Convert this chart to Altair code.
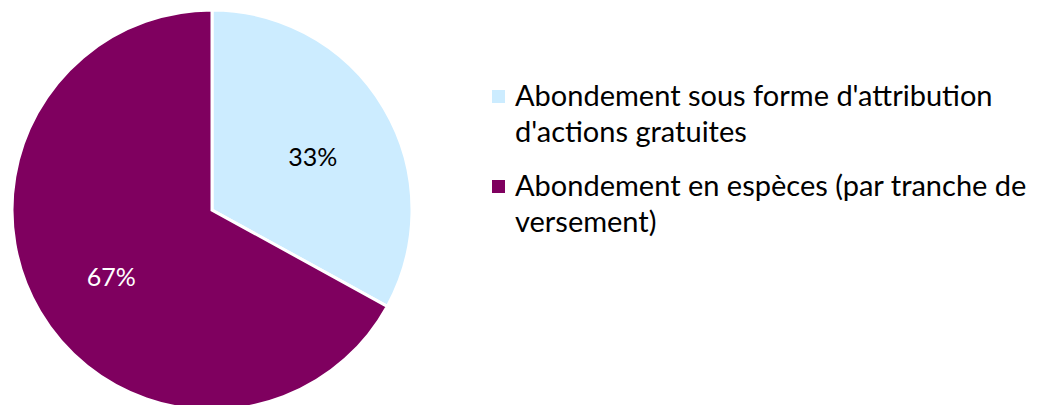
import altair as alt
import pandas as pd

categories = ["Abondement sous forme d'attribution|d'actions gratuites",
              "Abondement en espèces (par tranche de|versement)"]
values = [33, 67]
labels = ["33%", "67%"]
colors = ["#CCECFF", "#7F005F"]
text_colors = ["#000000", "#FFFFFF"]

df = pd.DataFrame({"cat": categories, "value": values, "label": labels,
                   "order": [0, 1], "tcolor": text_colors})

base = alt.Chart(df).encode(
    theta=alt.Theta("value:Q", stack=True),
    order=alt.Order("order:Q"),
    x=alt.value(204),
    y=alt.value(202),
)

pie = base.mark_arc(outerRadius=200, stroke="white", strokeWidth=3).encode(
    color=alt.Color(
        "cat:N",
        scale=alt.Scale(domain=categories, range=colors),
        sort=categories,
        legend=alt.Legend(
            title=None, orient="none", legendX=476, legendY=74,
            symbolType="square", symbolSize=169, symbolStrokeWidth=0,
            labelFont="Lato", labelFontSize=29, labelColor="#000000",
            labelLimit=1000, labelOffset=2, rowPadding=24,
            labelExpr="split(datum.label, '|')",
        ),
    )
)

text = base.mark_text(radius=117, font="Lato", fontSize=25, dy=8).encode(
    text="label:N",
    color=alt.Color("tcolor:N", scale=None),
)

chart = (pie + text).properties(
    width=1026, height=397, padding=0,
    autosize=alt.AutoSizeParams(type="none"),
).configure(
    style={"guide-label": {"lineHeight": 36}},
    view=alt.ViewConfig(strokeWidth=0, stroke="transparent"),
)

chart.save("out.html", embed_options={"renderer": "svg", "actions": False})
